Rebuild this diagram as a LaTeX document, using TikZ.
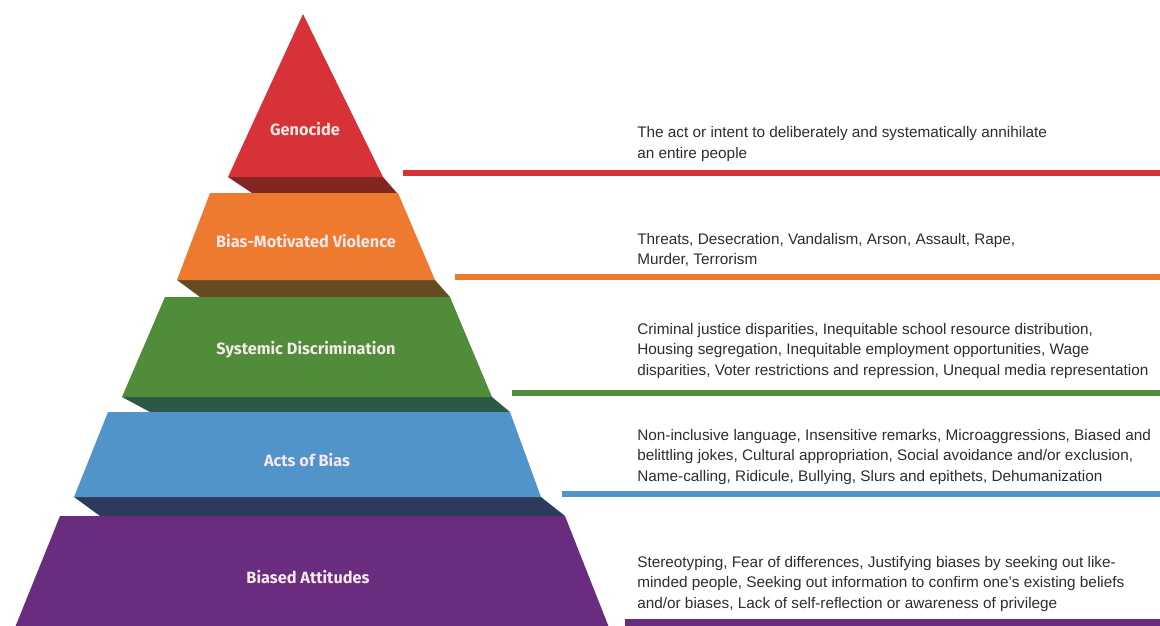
\documentclass[tikz,border=0pt]{standalone}
\usepackage{fontspec}
\setmainfont{Liberation Sans}
\newfontfamily\tierfont{Fira Sans}
\usepackage{tikz}

\definecolor{genred}{RGB}{214,50,56}
\definecolor{genredshade}{RGB}{130,38,34}
\definecolor{violorange}{RGB}{238,122,48}
\definecolor{violshade}{RGB}{104,74,34}
\definecolor{sysgreen}{RGB}{80,140,58}
\definecolor{sysshade}{RGB}{44,88,72}
\definecolor{actblue}{RGB}{80,148,202}
\definecolor{actshade}{RGB}{46,58,92}
\definecolor{attpurple}{RGB}{106,44,126}
\definecolor{tiertext}{RGB}{245,232,232}
\definecolor{desctext}{RGB}{45,45,45}

\begin{document}
\begin{tikzpicture}[x=0.025cm,y=-0.025cm]
\tikzstyle{tiername}=[font=\tierfont\bfseries\fontsize{11.6}{13}\selectfont,text=tiertext]
\tikzstyle{desc}=[anchor=west,align=left,inner sep=0pt,text=desctext,font=\fontsize{10.9}{14.8}\selectfont]
\tikzstyle{rule}=[line width=3.6pt]
\useasboundingbox (0,0) rectangle (1160,626);
\clip (0,0) rectangle (1160,626);

% shadow faces under each tier
\fill [genredshade] (228,177) -- (383,177) -- (397,193) -- (252,193) -- cycle;
\fill [violshade] (177,280) -- (435,280) -- (450,297) -- (200,297) -- cycle;
\fill [sysshade] (122,397) -- (492,397) -- (510,412) -- (150,412) -- cycle;
\fill [actshade] (74,497) -- (541,497) -- (565,516) -- (100,516) -- cycle;

% tiers
\fill [genred] (303,14) -- (383,177) -- (228,177) -- cycle;
\fill [violorange] (210,193) -- (398,193) -- (435,280) -- (177,280) -- cycle;
\fill [sysgreen] (165,297) -- (450,297) -- (492,397) -- (122,397) -- cycle;
\fill [actblue] (108,412) -- (510,412) -- (541,497) -- (74,497) -- cycle;
\fill [attpurple] (60,516) -- (565,516) -- (610,630) -- (14,630) -- cycle;

\node [tiername] (genocide) at (305,129) {Genocide};
\node [tiername] (violence) at (306,241) {Bias-Motivated Violence};
\node [tiername] (systemic) at (306,350) {Systemic Discrimination};
\node [tiername] (acts) at (307,460) {Acts of Bias};
\node [tiername] (attitudes) at (308,577) {Biased Attitudes};

% rules to the right
\draw [rule,genred] (403,173) -- (1160,173);
\draw [rule,violorange] (455,277) -- (1160,277);
\draw [rule,sysgreen] (512,393) -- (1160,393);
\draw [rule,actblue] (562,494) -- (1160,494);
\draw [rule,attpurple,line width=5pt] (625,623) -- (1160,623);

\node [desc] (genocide-desc) at (637,144) {The act or intent to deliberately and systematically annihilate\\an entire people};
\node [desc] (violence-desc) at (637,250) {Threats, Desecration, Vandalism, Arson, Assault, Rape,\\Murder, Terrorism};
\node [desc] (systemic-desc) at (637,351) {Criminal justice disparities, Inequitable school resource distribution,\\Housing segregation, Inequitable employment opportunities, Wage\\disparities, Voter restrictions and repression, Unequal media representation};
\node [desc] (acts-desc) at (637,457) {Non-inclusive language, Insensitive remarks, Microaggressions, Biased and\\belittling jokes, Cultural appropriation, Social avoidance and/or exclusion,\\Name-calling, Ridicule, Bullying, Slurs and epithets, Dehumanization};
\node [desc] (attitudes-desc) at (637,584) {Stereotyping, Fear of differences, Justifying biases by seeking out like-\\minded people, Seeking out information to confirm one's existing beliefs\\and/or biases, Lack of self-reflection or awareness of privilege};
\end{tikzpicture}
\end{document}
